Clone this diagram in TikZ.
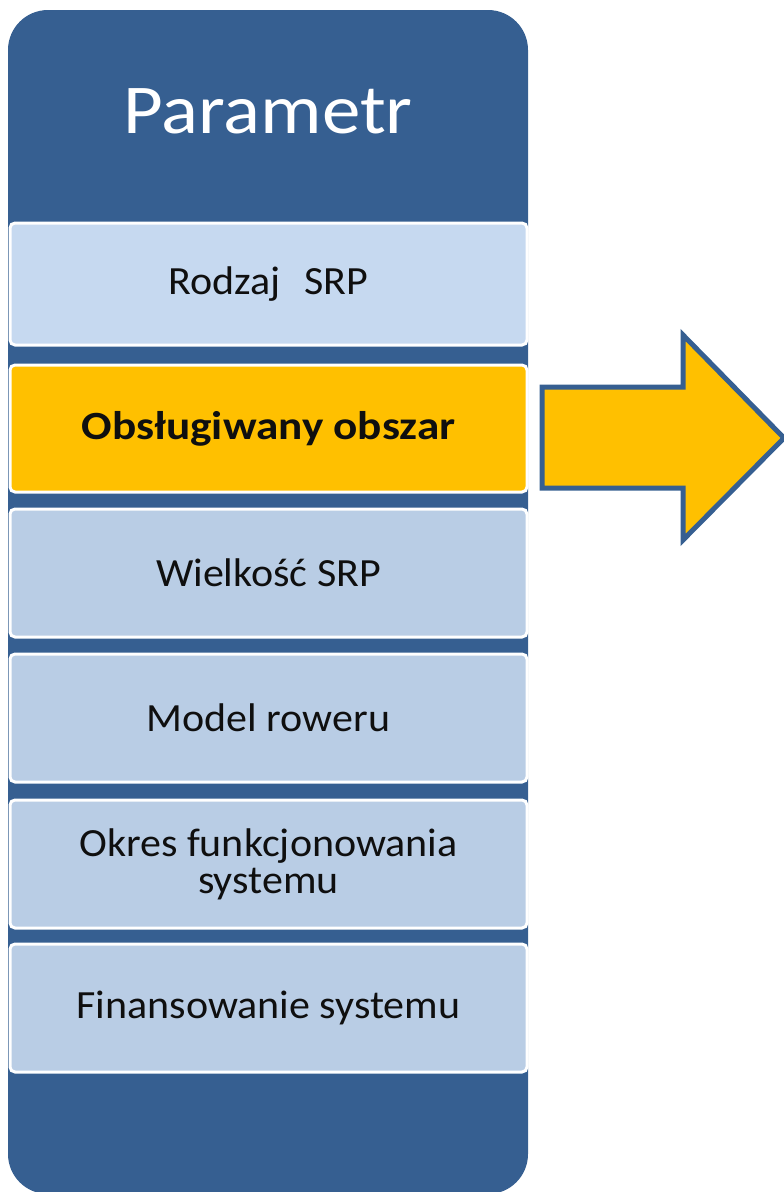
\documentclass[tikz,border=0pt]{standalone}
\usepackage{fontspec}
\setmainfont{Carlito}
\newfontfamily\headfont[FakeStretch=1.1]{Carlito}
\newfontfamily\rowfont[FakeStretch=1.05]{Carlito}
\newfontfamily\boldrowfont[FakeStretch=1.13]{Carlito}
\definecolor{hdrblue}{RGB}{54,95,145}
\definecolor{lightA}{RGB}{198,217,240}
\definecolor{lightB}{RGB}{185,205,229}
\definecolor{orng}{RGB}{255,192,0}
\definecolor{txt}{RGB}{15,15,15}
\tikzset{
  rowbox/.style={draw=white, line width=3pt, rounded corners=5pt, minimum width=517pt, inner sep=0pt, align=center, text=txt, font=\rowfont\fontsize{40}{37}\selectfont},
  bigarrow/.style={draw=hdrblue, fill=orng, line width=5pt, line join=miter}
}
\begin{document}
\begin{tikzpicture}[x=1pt,y=-1pt]
\useasboundingbox (0,0) rectangle (784,1192);
\fill[hdrblue, rounded corners=40pt] (8,10) rectangle (528,1194);
\node[text=white, font=\headfont\fontsize{70}{74}\selectfont] (title) at (268,111) {Parametr};
\node[rowbox, fill=lightA, minimum height=122pt] (r1) at (268.5,284) {Rodzaj\hspace{24pt}SRP};
\node[rowbox, fill=orng, minimum height=127pt, font=\boldrowfont\bfseries\fontsize{40}{37}\selectfont] (r2) at (268.5,428.5) {Obsługiwany obszar};
\node[rowbox, fill=lightB, minimum height=128pt] (r3) at (268.5,573) {Wielkość SRP};
\node[rowbox, fill=lightB, minimum height=128pt] (r4) at (268.5,718) {Model roweru};
\node[rowbox, fill=lightB, minimum height=128pt] (r5) at (268.5,864) {Okres funkcjonowania\\systemu};
\node[rowbox, fill=lightB, minimum height=128pt] (r6) at (268.5,1008) {Finansowanie systemu};
\coordinate (a1) at (542,387);
\coordinate (a2) at (683,387);
\coordinate (a3) at (683,335);
\coordinate (a4) at (784,438);
\coordinate (a5) at (683,540);
\coordinate (a6) at (683,488);
\coordinate (a7) at (542,488);
\draw[bigarrow] (a1) -- (a2) -- (a3) -- (a4) -- (a5) -- (a6) -- (a7) -- cycle;
\end{tikzpicture}
\end{document}
